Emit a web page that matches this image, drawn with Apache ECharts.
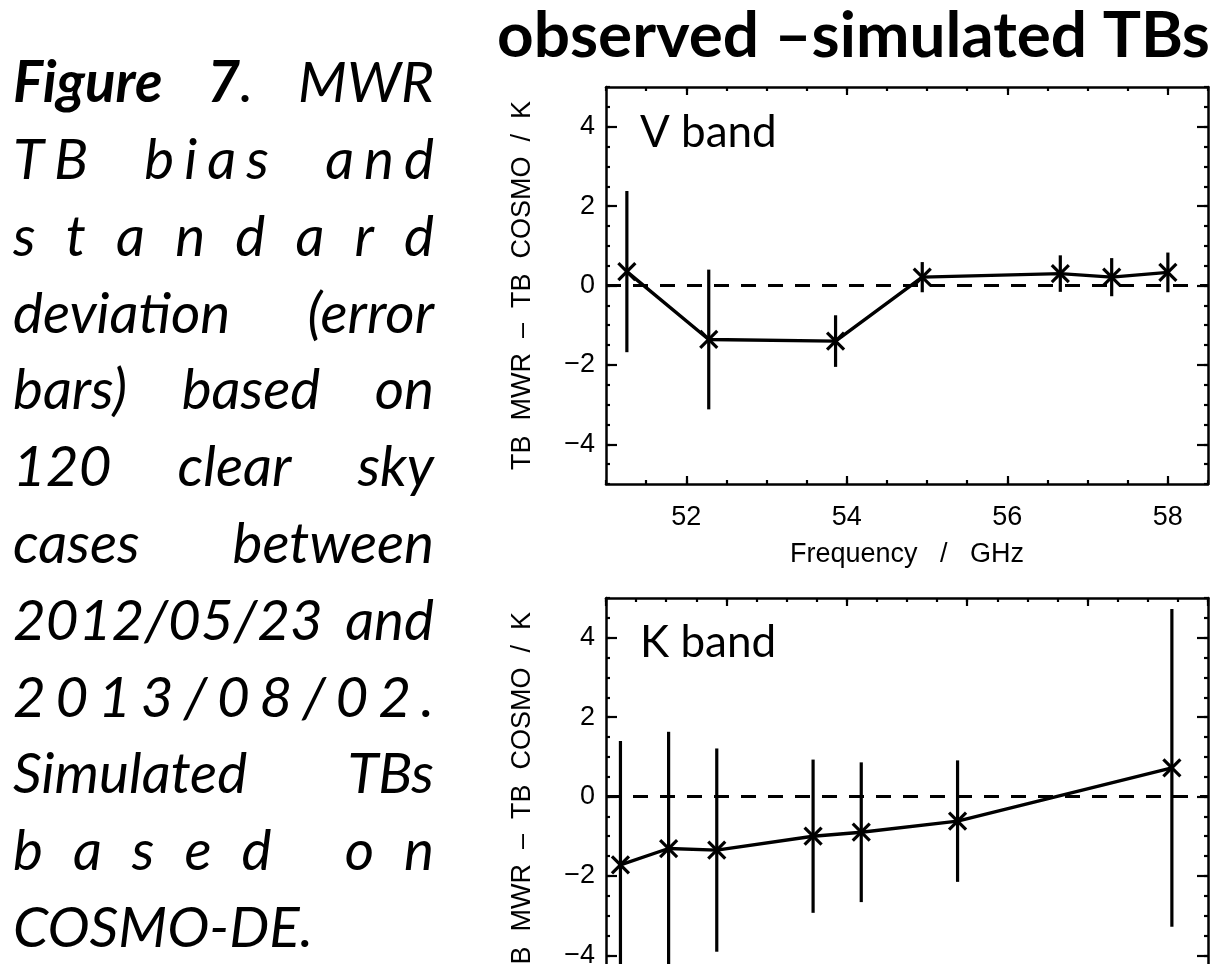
<!DOCTYPE html>
<html><head><meta charset="utf-8">
<script src="https://cdn.jsdelivr.net/npm/echarts@6/dist/echarts.min.js"></script>
<style>html,body{margin:0;padding:0;background:#fff}#c{width:1215px;height:964px}</style>
</head><body><div id="c"></div>
<script>
// ---- data ----
const vFreq = [51.26, 52.28, 53.86, 54.94, 56.66, 57.30, 58.00];
const vBias = [0.35, -1.36, -1.40, 0.21, 0.30, 0.21, 0.33];
const vStd  = [2.03, 1.76, 0.65, 0.38, 0.46, 0.48, 0.50];
const kFreq = [22.24, 23.04, 23.84, 25.44, 26.24, 27.84, 31.40];
const kBias = [-1.72, -1.31, -1.35, -1.00, -0.90, -0.62, 0.72];
const kStd  = [3.12, 2.94, 2.56, 1.93, 1.76, 1.53, 4.00];
const vTicks = [52, 54, 56, 58];
const kTicks = [22, 24, 26, 28, 30, 32];
const yTicks = [-4, -2, 0, 2, 4];
const titleText = 'observed \u2013simulated TBs';
const yName = 'TB  MWR  \u2013  TB  COSMO  /  K';
const xName = 'Frequency   /   GHz';
const panelLabels = ['V band', 'K band'];
const captionLines = [
  {mode: 'words', segs: [['Figure', 1], [' ', 0], ['7', 1], ['. MWR', 0]]},
  {mode: 'chars', segs: [['TB  bias  and', 0]]},
  {mode: 'chars', segs: [['standard', 0]]},
  {mode: 'words', segs: [['deviation (error', 0]]},
  {mode: 'words', segs: [['bars) based on', 0]]},
  {mode: 'words', segs: [['120 clear sky', 0]]},
  {mode: 'words', segs: [['cases between', 0]]},
  {mode: 'words', segs: [['2012/05/23 and', 0]]},
  {mode: 'chars', segs: [['2013/08/02.', 0]]},
  {mode: 'words', segs: [['Simulated TBs', 0]]},
  {mode: 'chars', segs: [['based on', 0]]},
  {mode: 'left',  segs: [['COSMO-DE.', 0]]}
];

// ---- helpers ----
const TICKFONT = 'Liberation Sans';
function halfSteps(a, b) { const r = []; for (let v = a; v <= b + 1e-9; v += 0.5) r.push(+v.toFixed(2)); return r; }
const mctx = document.createElement('canvas').getContext('2d');
function setF(style, weight, size, fam) { mctx.font = `${style} ${weight} ${size}px ${fam}`; }
function mw(t, b, size) { setF('italic', b ? 'bold' : 'normal', size, 'Lato'); return mctx.measureText(t).width; }
function midOff(style, weight, size, fam) {
  setF(style, weight, size, fam);
  const m = mctx.measureText('Hxg');
  if (m.fontBoundingBoxAscent !== undefined) return (m.fontBoundingBoxAscent - m.fontBoundingBoxDescent) / 2;
  return size * 0.387;
}

const panels = [
  {freq: vFreq, bias: vBias, std: vStd, xmin: 51, xmax: 58.5, xMajor: vTicks, top: 87, xname: xName},
  {freq: kFreq, bias: kBias, std: kStd, xmin: 22, xmax: 32, xMajor: kTicks, top: 598, xname: ''}
];

const grids = [], xAxes = [], yAxes = [], series = [];
const lineW = 2.5;
panels.forEach((p, gi) => {
  grids.push({left: 606, width: 602, top: p.top, height: 397, containLabel: false, outerBoundsMode: 'none'});
  const minor = halfSteps(p.xmin, p.xmax);
  const yMinor = halfSteps(-5, 5);
  const mkX = (pos, major, label, line) => ({
    type: 'value', gridIndex: gi, position: pos, min: p.xmin, max: p.xmax,
    axisLine: {show: line, onZero: false, lineStyle: {color: '#000', width: lineW}},
    axisTick: {show: true, inside: true, length: major ? 8 : 4, lineStyle: {color: '#000', width: 2.2}, customValues: major ? p.xMajor : minor},
    axisLabel: {show: label, customValues: p.xMajor, color: '#000', fontFamily: TICKFONT, fontSize: 27, margin: 20},
    splitLine: {show: false}, minorTick: {show: false},
    name: label ? p.xname : '', nameLocation: 'middle', nameGap: 57,
    nameTextStyle: {color: '#000', fontFamily: TICKFONT, fontSize: 27}
  });
  const mkY = (pos, major, label, line) => ({
    type: 'value', gridIndex: gi, position: pos, min: -5, max: 5,
    axisLine: {show: line, onZero: false, lineStyle: {color: '#000', width: lineW}},
    axisTick: {show: true, inside: true, length: major ? 11 : 4, lineStyle: {color: '#000', width: 2.2}, customValues: major ? yTicks : yMinor},
    axisLabel: {show: label, customValues: yTicks, color: '#000', fontFamily: TICKFONT, fontSize: 27, margin: 11,
      formatter: v => v < 0 ? '\u2212' + Math.abs(v) : String(v)},
    splitLine: {show: false}, minorTick: {show: false},
    name: label ? yName : '', nameLocation: 'middle', nameGap: 70, nameRotate: 90,
    nameTextStyle: {color: '#000', fontFamily: TICKFONT, fontSize: 27}
  });
  xAxes.push(mkX('bottom', true, true, true), mkX('top', true, false, true), mkX('bottom', false, false, false), mkX('top', false, false, false));
  yAxes.push(mkY('left', true, true, true), mkY('right', true, false, true), mkY('left', false, false, false), mkY('right', false, false, false));
  const xi = gi * 4, yi = gi * 4;
  series.push({
    type: 'line', xAxisIndex: xi, yAxisIndex: yi, symbol: 'none', z: 3,
    lineStyle: {color: '#000', width: 3.4},
    data: p.freq.map((f, i) => [f, p.bias[i]]),
    markLine: {symbol: 'none', silent: true, label: {show: false}, animation: false,
      lineStyle: {type: [15, 12], color: '#000', width: 3}, data: [{yAxis: 0}]}
  });
  series.push({
    type: 'custom', xAxisIndex: xi, yAxisIndex: yi, z: 4, clip: false,
    data: p.freq.map((f, i) => [f, p.bias[i], p.std[i]]),
    encode: {x: 0, y: 1},
    renderItem: (params, api) => {
      const x = api.value(0), y = api.value(1), s = api.value(2);
      const c = api.coord([x, y]), t = api.coord([x, y + s]), b = api.coord([x, y - s]);
      const h = 8.5, st = {stroke: '#000', lineWidth: 3.2};
      return {type: 'group', children: [
        {type: 'line', shape: {x1: t[0], y1: t[1], x2: b[0], y2: b[1]}, style: st},
        {type: 'line', shape: {x1: c[0] - h, y1: c[1] - h, x2: c[0] + h, y2: c[1] + h}, style: st},
        {type: 'line', shape: {x1: c[0] - h, y1: c[1] + h, x2: c[0] + h, y2: c[1] - h}, style: st}
      ]};
    }
  });
});

// ---- text graphics ----
const graphics = [];
function txt(x, baseline, text, o) {
  const off = midOff(o.style || 'normal', o.weight || 'normal', o.size, o.fam);
  graphics.push({type: 'text', x: x, y: baseline - off, silent: true,
    style: {text: text, fill: '#000', fontStyle: o.style || 'normal', fontWeight: o.weight || 'normal',
      fontSize: o.size, fontFamily: o.fam, textAlign: 'left', verticalAlign: 'middle', textVerticalAlign: 'middle'}});
}
setF('normal', 'bold', 100, 'Lato');
const titleSize = 100 * 713 / mctx.measureText(titleText).width;
txt(497, 61, titleText, {weight: 'bold', size: titleSize, fam: 'Lato'});
txt(640, 150, panelLabels[0], {size: 44, fam: 'Lato'});
txt(640, 660, panelLabels[1], {size: 44, fam: 'Lato'});

const CAPS = 100 * 300 / mw('COSMO-DE.', 0, 100);
const capX0 = 13, capW = 421, capBase0 = 106, capLead = 76.8;
captionLines.forEach((ln, li) => {
  const base = capBase0 + li * capLead;
  const chars = [];
  ln.segs.forEach(([t, b]) => { for (const ch of t) chars.push({ch, b}); });
  let units = [];
  if (ln.mode === 'chars') {
    units = chars.map(c => [{t: c.ch, b: c.b}]);
  } else if (ln.mode === 'words') {
    let cur = null;
    chars.forEach(c => {
      if (c.ch === ' ') { cur = null; return; }
      if (!cur) { cur = []; units.push(cur); }
      const last = cur[cur.length - 1];
      if (last && last.b === c.b) last.t += c.ch; else cur.push({t: c.ch, b: c.b});
    });
  } else {
    units = [ln.segs.map(([t, b]) => ({t, b}))];
  }
  const uw = units.map(u => u.reduce((s, pc) => s + mw(pc.t, pc.b, CAPS), 0));
  const total = uw.reduce((a, b) => a + b, 0);
  const gap = (ln.mode === 'left' || units.length < 2) ? 0 : (capW - total) / (units.length - 1);
  let x = capX0;
  units.forEach((u, i) => {
    let px = x;
    u.forEach(pc => {
      if (pc.t.trim() !== '') txt(px, base, pc.t, {style: 'italic', weight: pc.b ? 'bold' : 'normal', size: CAPS, fam: 'Lato'});
      px += mw(pc.t, pc.b, CAPS);
    });
    x += uw[i] + gap;
  });
});

const chart = echarts.init(document.getElementById('c'), null, {renderer: 'canvas', width: 1215, height: 964});
chart.setOption({
  animation: false,
  backgroundColor: '#fff',
  grid: grids, xAxis: xAxes, yAxis: yAxes, series: series,
  graphic: {elements: graphics}
});
</script>
</body></html>
